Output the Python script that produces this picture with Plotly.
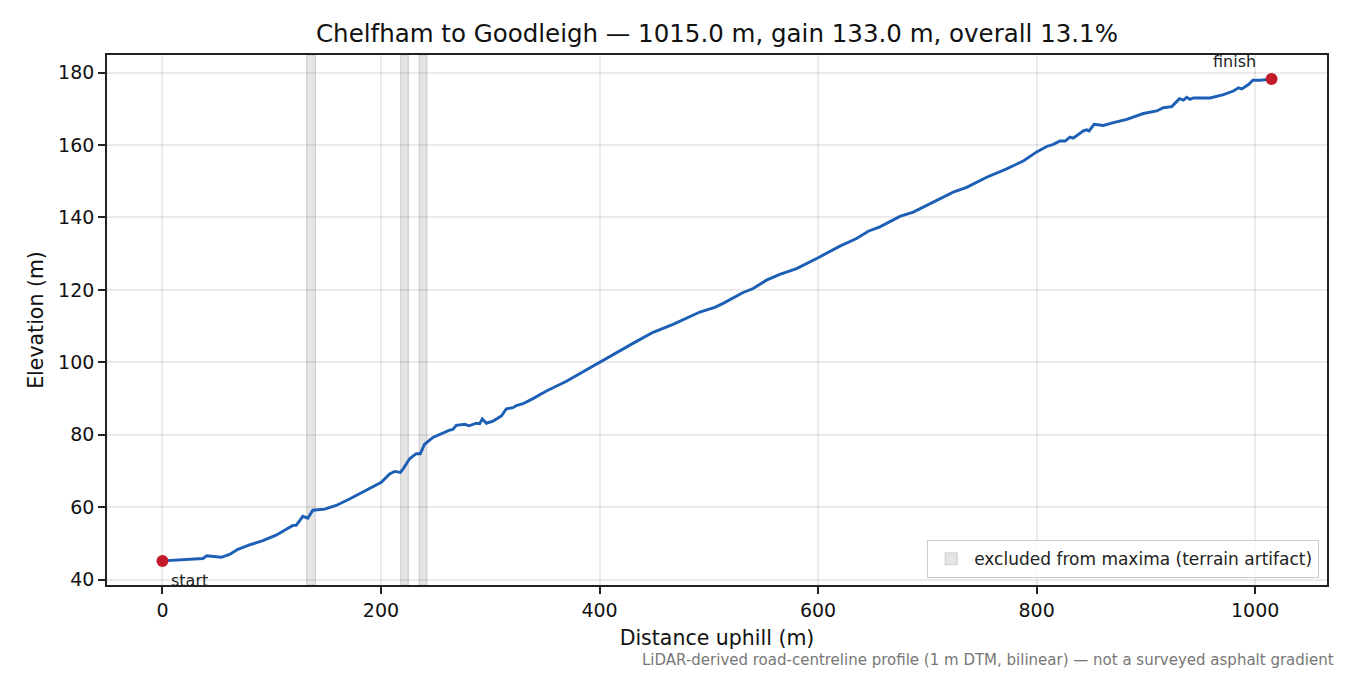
"""
Elevation profile of the Chelfham to Goodleigh climb, drawn with Plotly.
"""

import plotly.graph_objects as go

# Distance along the road (m) and elevation (m), read from the profile
distance = [0, 15, 30, 37, 40.6, 46, 53.7, 61.4, 69, 79.7, 91.9, 104, 113.3, 119.3,
            122.4, 128.5, 133, 137.6, 148.4, 152.9, 159, 171.2, 183.4, 195.7, 200.3,
            207.9, 212.5, 217.7, 220.1, 226.2, 232.3, 236, 239.9, 247.5, 256.7, 262.8,
            265.8, 268.9, 276.6, 280.5, 287.3, 290.3, 292.7, 296.4, 302.5, 310.2, 314.7,
            320.8, 323.9, 330, 339.1, 351.4, 369.7, 388, 400.2, 418.5, 433.8, 449, 467.3,
            491.8, 505.5, 513.1, 531.4, 540.6, 552.8, 565, 580.3, 600.1, 620, 635.2,
            645.9, 656.6, 674.9, 687.1, 705.4, 723.7, 736, 754.3, 772.6, 787.8, 800.1,
            809.2, 815.3, 821.4, 826, 830.6, 833.6, 842.8, 845.8, 848, 852.6, 861.1,
            870.3, 882.5, 897.7, 909.9, 916, 923.7, 930.7, 934.4, 937.4, 940.4, 943.5,
            958.8, 971, 980.1, 984.7, 987.8, 993.9, 997.9, 1004.6, 1010.7, 1015]
elevation = [45.2, 45.4, 45.6, 45.85, 46.6, 46.4, 46.2, 47.0, 48.4, 49.6, 50.8, 52.3, 54.0, 55.0,
             55.0, 57.5, 57.0, 59.2, 59.5, 60.0, 60.5, 62.3, 64.2, 66.0, 66.9,
             69.2, 69.9, 69.6, 70.5, 73.4, 74.8, 74.8, 77.4, 79.3, 80.6, 81.3,
             81.5, 82.6, 82.9, 82.5, 83.2, 83.1, 84.4, 83.2, 83.8, 85.2, 87.2,
             87.5, 88.1, 88.6, 90.0, 92.1, 94.8, 98.0, 100.1, 103.1, 105.8, 108.3, 110.5,
             113.9, 115.2, 116.3, 119.3, 120.4, 122.7, 124.3, 125.9, 128.9, 132.1, 134.2,
             136.2, 137.4, 140.3, 141.5, 144.2, 147.0, 148.3, 151.1, 153.4, 155.6, 158.1,
             159.6, 160.2, 161.1, 161.1, 162.2, 161.9, 163.9, 164.2, 163.9, 165.7, 165.4,
             166.2, 167.1, 168.7, 169.4, 170.3, 170.6, 172.8, 172.4, 173.2, 172.6, 173.0,
             173.0, 173.9, 174.9, 175.8, 175.5, 176.7, 177.9, 177.9, 178.1, 178.2]

# Stretches left out of the maxima search (start m, end m)
excluded_bands = [(132, 140), (218, 225), (235, 242)]

title = "Chelfham to Goodleigh \u2014 1015.0 m, gain 133.0 m, overall 13.1%"
footer = ("LiDAR-derived road-centreline profile (1 m DTM, bilinear) \u2014 "
          "not a surveyed asphalt gradient")

FONT = "DejaVu Sans"

# the page body adds an 8 px margin, so the figure is 8 px smaller each way
W, H = 1342, 667

fig = go.Figure()

# Grey bands for the excluded stretches, first one shows in the legend
for i, (x0, x1) in enumerate(excluded_bands):
    fig.add_shape(type="rect", xref="x", yref="paper", x0=x0, x1=x1, y0=0, y1=1,
                  fillcolor="rgba(150,150,150,0.25)",
                  line=dict(color="rgba(150,150,150,0.35)", width=1.2),
                  layer="below", showlegend=(i == 0),
                  name="excluded from maxima (terrain artifact)")

# The profile itself
fig.add_trace(go.Scatter(x=distance, y=elevation, mode="lines",
                         line=dict(color="#1c5fb5", width=2.9),
                         showlegend=False, hoverinfo="x+y"))

# Start and finish markers
fig.add_trace(go.Scatter(x=[distance[0], distance[-1]], y=[elevation[0], elevation[-1]],
                         mode="markers", marker=dict(color="#c21b2a", size=12),
                         showlegend=False))

fig.add_annotation(x=distance[0], y=elevation[0], text="start", showarrow=False,
                   xanchor="left", yanchor="middle", xshift=7, yshift=-20,
                   font=dict(family=FONT, size=16, color="#222222"))
fig.add_annotation(x=distance[-1], y=elevation[-1], text="finish", showarrow=False,
                   xanchor="right", yanchor="middle", xshift=-14, yshift=18,
                   font=dict(family=FONT, size=16, color="#222222"))

# Footer note under the x axis
fig.add_annotation(xref="paper", yref="paper", x=1.0074, y=-0.141, text=footer,
                   showarrow=False, xanchor="right", yanchor="middle",
                   font=dict(family=FONT, size=15, color="#777777"))

axis_style = dict(showline=True, linecolor="#222222", linewidth=1.7, mirror=True,
                  ticks="outside", ticklen=7, tickwidth=1.7, tickcolor="#222222",
                  showgrid=True, gridcolor="rgba(0,0,0,0.08)", gridwidth=1.5,
                  zeroline=False, tickfont=dict(family=FONT, size=19, color="#111111"))

fig.update_xaxes(range=[-50.75, 1065.75], tickvals=[0, 200, 400, 600, 800, 1000],
                 title=dict(text="Distance uphill (m)", standoff=11,
                            font=dict(family=FONT, size=20.5, color="#111111")),
                 **axis_style)
fig.update_yaxes(range=[38.55, 184.85], tickvals=[40, 60, 80, 100, 120, 140, 160, 180],
                 title=dict(text="Elevation (m)", standoff=9,
                            font=dict(family=FONT, size=20.5, color="#111111")),
                 **axis_style)

fig.update_layout(
    width=W, height=H,
    margin=dict(l=99, r=23, t=47, b=90),
    paper_bgcolor="white", plot_bgcolor="white",
    title=dict(text=title, x=0.5, xref="paper", y=1 - 25 / H, yanchor="middle",
               font=dict(family=FONT, size=24.5, color="#111111")),
    legend=dict(x=1 - 8 / 1220, y=7 / 530, xanchor="right", yanchor="bottom",
                bgcolor="rgba(255,255,255,0.85)", bordercolor="#cccccc", borderwidth=1.2,
                font=dict(family=FONT, size=17, color="#222222"), itemwidth=36),
    showlegend=True,
)

fig.write_html("out.html")
